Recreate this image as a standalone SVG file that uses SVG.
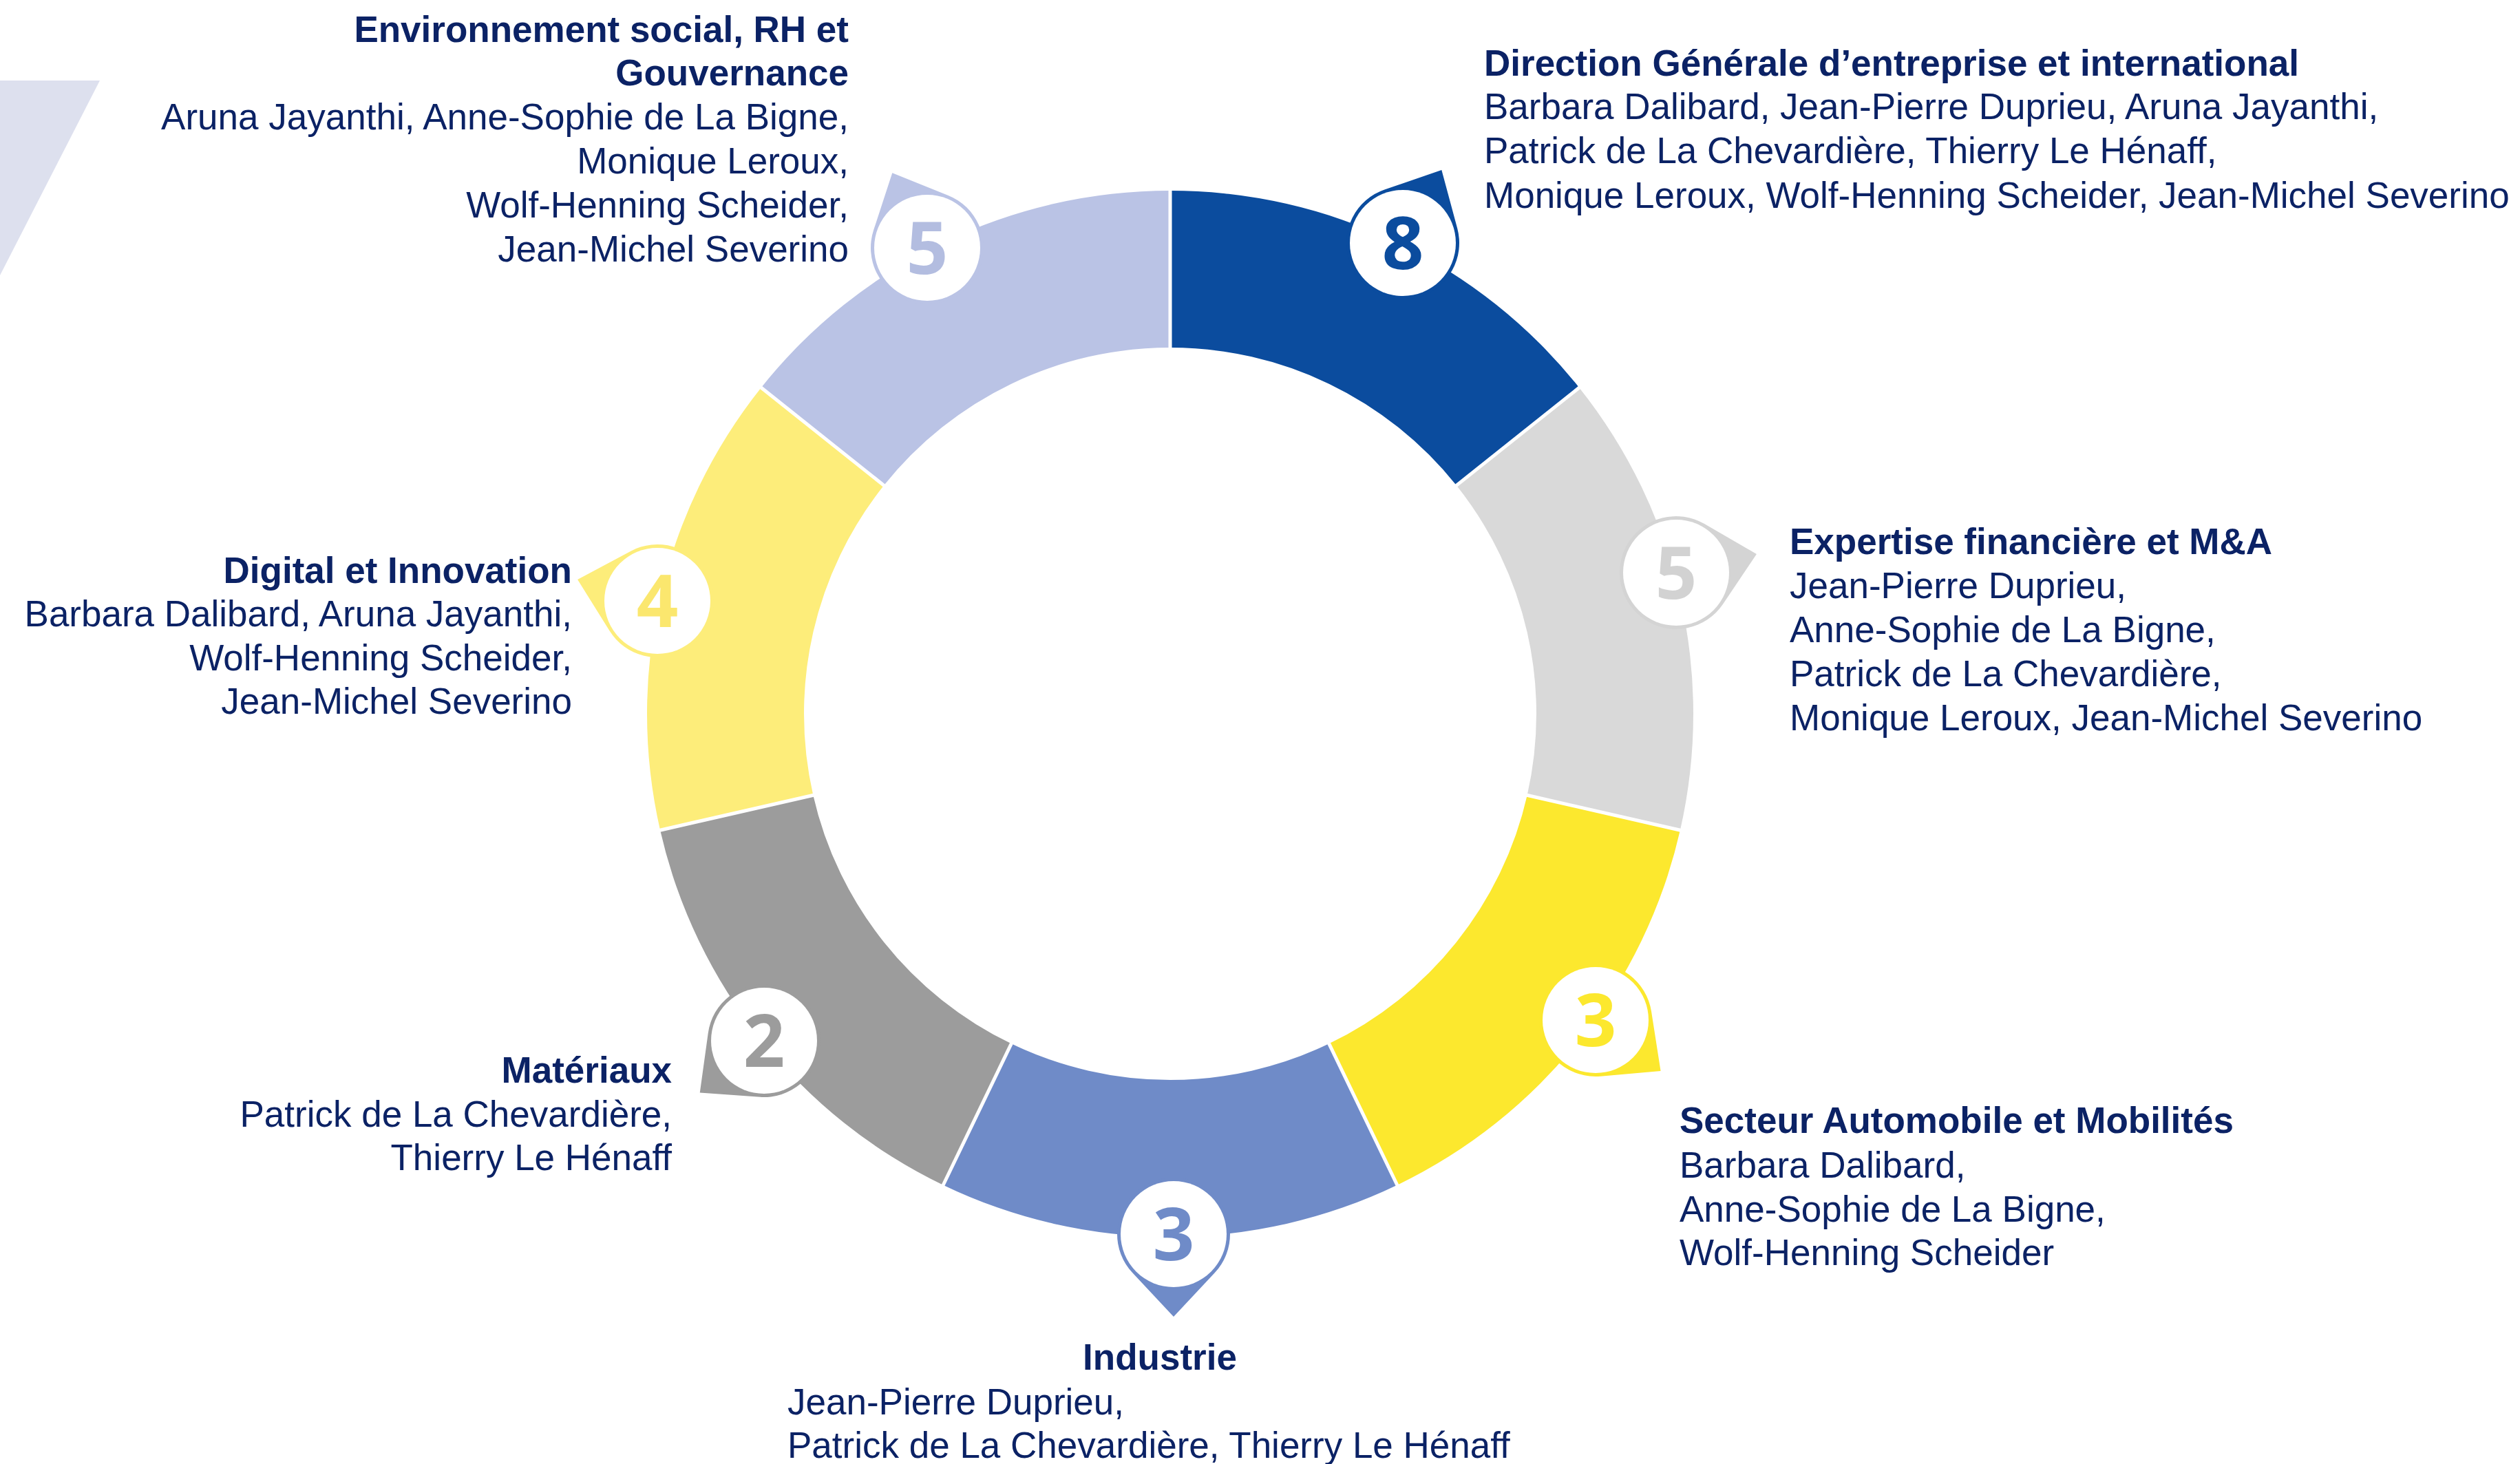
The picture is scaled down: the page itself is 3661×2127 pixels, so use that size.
<svg xmlns="http://www.w3.org/2000/svg" xmlns:xlink="http://www.w3.org/1999/xlink" width="3661" height="2127" viewBox="0 0 3661 2127">
<style>
.t{font-family:"Liberation Sans",Arial,sans-serif;font-size:53px;fill:#0b2265}
.b{font-weight:bold}
.e{text-anchor:end}
.m{text-anchor:middle}
.num{font-family:"Open Sans","Liberation Sans",sans-serif;font-weight:700;font-size:106px;text-anchor:middle}
.sep{stroke:#ffffff;stroke-width:5}
.wc{fill:#ffffff}
</style>
<defs>
<path id="pin" d="M -59.9,-56 L 0,-120 L 59.9,-56 A 82 82 0 1 1 -59.9,-56 Z"/>
</defs>
<rect width="3661" height="2127" fill="#ffffff"/>
<polygon points="0,117 145,117 0,400" fill="#dde0ee"/>

<g id="node-direction">
<path d="M1700,277 A760,760 0 0 1 2294.19,563.15 L2115.93,705.30 A532,532 0 0 0 1700,505 Z" fill="#0b4c9e"/>
</g>
<g id="node-expertise">
<path d="M2294.19,563.15 A760,760 0 0 1 2440.95,1206.12 L2218.66,1155.38 A532,532 0 0 0 2115.93,705.30 Z" fill="#d9d9d9"/>
</g>
<g id="node-automobile">
<path d="M2440.95,1206.12 A760,760 0 0 1 2029.75,1721.74 L1930.83,1516.32 A532,532 0 0 0 2218.66,1155.38 Z" fill="#fce82e"/>
</g>
<g id="node-industrie">
<path d="M2029.75,1721.74 A760,760 0 0 1 1370.25,1721.74 L1469.17,1516.32 A532,532 0 0 0 1930.83,1516.32 Z" fill="#6f8bc8"/>
</g>
<g id="node-materiaux">
<path d="M1370.25,1721.74 A760,760 0 0 1 959.05,1206.12 L1181.34,1155.38 A532,532 0 0 0 1469.17,1516.32 Z" fill="#9c9c9c"/>
</g>
<g id="node-digital">
<path d="M959.05,1206.12 A760,760 0 0 1 1105.81,563.15 L1284.07,705.30 A532,532 0 0 0 1181.34,1155.38 Z" fill="#fded7a"/>
</g>
<g id="node-environnement">
<path d="M1105.81,563.15 A760,760 0 0 1 1700,277 L1700,505 A532,532 0 0 0 1284.07,705.30 Z" fill="#bac3e5"/>
</g>

<g id="connectors">
<line class="sep" x1="1700" y1="270" x2="1700" y2="510"/>
<line class="sep" x1="2299.7" y1="558.8" x2="2112" y2="708.4"/>
<line class="sep" x1="2447.8" y1="1207.7" x2="2213.8" y2="1154.3"/>
<line class="sep" x1="2032.8" y1="1728" x2="1928.6" y2="1511.8"/>
<line class="sep" x1="1367.2" y1="1728" x2="1471.4" y2="1511.8"/>
<line class="sep" x1="952.2" y1="1207.7" x2="1186.2" y2="1154.3"/>
<line class="sep" x1="1100.3" y1="558.8" x2="1288" y2="708.4"/>
</g>

<g id="badge-8">
<use xlink:href="#pin" transform="translate(2038,353) rotate(28)" fill="#0b4c9e"/>
<circle class="wc" cx="2038" cy="353" r="77"/>
<text class="num" x="2038" y="391" fill="#0b4c9e">8</text>
</g>
<g id="badge-5r">
<use xlink:href="#pin" transform="translate(2435,832) rotate(77)" fill="#d4d4d4"/>
<circle class="wc" cx="2435" cy="832" r="77"/>
<text class="num" x="2435" y="870" fill="#d2d2d2">5</text>
</g>
<g id="badge-3r">
<use xlink:href="#pin" transform="translate(2318,1482) rotate(128)" fill="#fce82e"/>
<circle class="wc" cx="2318" cy="1482" r="77"/>
<text class="num" x="2318" y="1520" fill="#fce82e">3</text>
</g>
<g id="badge-3b">
<use xlink:href="#pin" transform="translate(1705,1793) rotate(180)" fill="#6f8bc8"/>
<circle class="wc" cx="1705" cy="1793" r="77"/>
<text class="num" x="1705" y="1831" fill="#6f8bc8">3</text>
</g>
<g id="badge-2">
<use xlink:href="#pin" transform="translate(1110,1512) rotate(231)" fill="#9c9c9c"/>
<circle class="wc" cx="1110" cy="1512" r="77"/>
<text class="num" x="1110" y="1550" fill="#9c9c9c">2</text>
</g>
<g id="badge-4">
<use xlink:href="#pin" transform="translate(955,873) rotate(285)" fill="#fded7a"/>
<circle class="wc" cx="955" cy="873" r="77"/>
<text class="num" x="955" y="911" fill="#fbe76e">4</text>
</g>
<g id="badge-5l">
<use xlink:href="#pin" transform="translate(1347,360) rotate(335)" fill="#bac3e5"/>
<circle class="wc" cx="1347" cy="360" r="77"/>
<text class="num" x="1347" y="398" fill="#b3bde0">5</text>
</g>

<g id="label-environnement" class="t e">
<text class="t b e" x="1233" y="61">Environnement social, RH et</text>
<text class="t b e" x="1233" y="124">Gouvernance</text>
<text class="t e" x="1233" y="188">Aruna Jayanthi, Anne-Sophie de La Bigne,</text>
<text class="t e" x="1233" y="252">Monique Leroux,</text>
<text class="t e" x="1233" y="316">Wolf-Henning Scheider,</text>
<text class="t e" x="1233" y="380">Jean-Michel Severino</text>
</g>
<g id="label-direction">
<text class="t b" x="2156" y="110">Direction Générale d’entreprise et international</text>
<text class="t" x="2156" y="173">Barbara Dalibard, Jean-Pierre Duprieu, Aruna Jayanthi,</text>
<text class="t" x="2156" y="237">Patrick de La Chevardière, Thierry Le Hénaff,</text>
<text class="t" x="2156" y="302">Monique Leroux, Wolf-Henning Scheider, Jean-Michel Severino</text>
</g>
<g id="label-expertise">
<text class="t b" x="2600" y="805">Expertise financière et M&amp;A</text>
<text class="t" x="2600" y="869">Jean-Pierre Duprieu,</text>
<text class="t" x="2600" y="933">Anne-Sophie de La Bigne,</text>
<text class="t" x="2600" y="997">Patrick de La Chevardière,</text>
<text class="t" x="2600" y="1061">Monique Leroux, Jean-Michel Severino</text>
</g>
<g id="label-automobile">
<text class="t b" x="2440" y="1646">Secteur Automobile et Mobilités</text>
<text class="t" x="2440" y="1711">Barbara Dalibard,</text>
<text class="t" x="2440" y="1775">Anne-Sophie de La Bigne,</text>
<text class="t" x="2440" y="1838">Wolf-Henning Scheider</text>
</g>
<g id="label-industrie">
<text class="t b m" x="1685" y="1990">Industrie</text>
<text class="t" x="1144" y="2055">Jean-Pierre Duprieu,</text>
<text class="t" x="1144" y="2118">Patrick de La Chevardière, Thierry Le Hénaff</text>
</g>
<g id="label-digital">
<text class="t b e" x="831" y="847">Digital et Innovation</text>
<text class="t e" x="831" y="910">Barbara Dalibard, Aruna Jayanthi,</text>
<text class="t e" x="831" y="974">Wolf-Henning Scheider,</text>
<text class="t e" x="831" y="1037">Jean-Michel Severino</text>
</g>
<g id="label-materiaux">
<text class="t b e" x="976" y="1573">Matériaux</text>
<text class="t e" x="976" y="1637">Patrick de La Chevardière,</text>
<text class="t e" x="976" y="1700">Thierry Le Hénaff</text>
</g>
</svg>
